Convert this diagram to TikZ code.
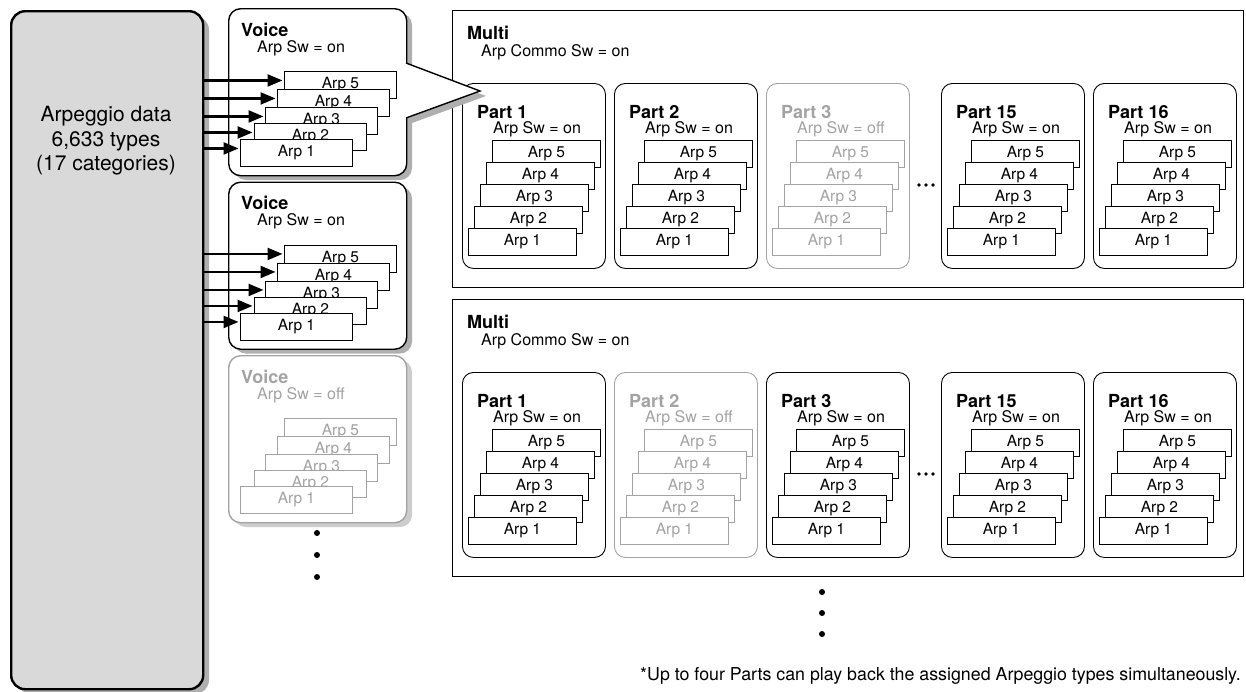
\documentclass[tikz,border=0pt]{standalone}
\usepackage{fontspec}
\setmainfont{TeX Gyre Heros}
\usetikzlibrary{arrows.meta,positioning}

\definecolor{datagray}{HTML}{D9D9D9}
\definecolor{shadowgray}{HTML}{AFAFAF}
\definecolor{offgray}{HTML}{A3A3A3}
\definecolor{offshadow}{HTML}{CDCDCD}

\begin{document}
\begin{tikzpicture}[x=1pt,y=-1pt,
    txt/.style={inner sep=0pt, font=\fontsize{16}{19}\selectfont},
    head/.style={inner sep=0pt, font=\fontsize{18}{20}\selectfont\bfseries},
    arpbox/.style={draw, fill=white, line width=0.9pt, inner sep=0pt, anchor=north west, font=\fontsize{15.5}{18}\selectfont},
    partbox/.style={draw, rounded corners=11pt, line width=0.9pt, minimum width=143pt, minimum height=185pt, anchor=north west},
    voicebox/.style={draw, fill=white, rounded corners=12pt, line width=1.4pt, minimum width=178pt, minimum height=167pt, anchor=north west},
    feed/.style={-{Triangle[length=15pt,width=12pt]}, line width=2.3pt, shorten >=1.5pt}]
  \useasboundingbox (0,0) rectangle (1246,691);

  % arpeggio data
  \fill[shadowgray, rounded corners=14pt] (17,16) rectangle (209,694);
  \node[draw, line width=2.4pt, fill=datagray, rounded corners=14pt, minimum width=192pt, minimum height=678pt, anchor=north west] (data) at (10,10) {};
  \node[txt, font=\fontsize{21}{24.5}\selectfont, align=center] (datatext) at (106,141) {Arpeggio data\\6,633 types\\(17 categories)};

  % multis with their parts
  \foreach \m/\my/\plist in {1/10/{462/1/on/black,614/2/on/black,766/3/off/offgray,941/15/on/black,1093/16/on/black},
                             2/299/{462/1/on/black,614/2/off/offgray,766/3/on/black,941/15/on/black,1093/16/on/black}} {
    \node[draw, line width=0.9pt, minimum width=791pt, minimum height=277pt, anchor=north west] (multi\m) at (452,\my) {};
    \node[head, anchor=base west] (multi\m-t) at (467,\my+29) {Multi};
    \node[txt, anchor=base west] (multi\m-s) at (481,\my+46) {Arp Commo Sw = on};
    \foreach \px/\pn/\sw/\col in \plist {
      \node[partbox, draw=\col] (m\m p\pn) at (\px,\my+73) {};
      \node[head, text=\col, anchor=base west] (m\m p\pn-t) at (\px+15,\my+108) {Part \pn};
      \node[txt, text=\col, anchor=base west] (m\m p\pn-s) at (\px+31,\my+123) {Arp Sw = \sw};
      \foreach \k in {5,4,3,2,1}
        \node[arpbox, draw=\col, text=\col, minimum width=108pt, minimum height=27pt] (m\m p\pn a\k) at (\px+6*\k,\my+240-22*\k) {Arp \k};
    }
    \foreach \dx in {919,926,933}
      \fill (\dx,\my+175) circle (1.8pt);
  }

  % voices
  \foreach \vi/\vy/\sh in {1/8/shadowgray,2/181.5/shadowgray,3/355/offshadow}
    \fill[\sh, rounded corners=12pt] (234,\vy+5) rectangle (412,\vy+172);
  \fill[shadowgray] (412,68) -- (486,96) -- (412,123) -- cycle;
  \foreach \vi/\vy/\col/\sw in {1/8/black/on,2/181.5/black/on,3/355/offgray/off} {
    \node[voicebox, draw=\col] (voice\vi) at (228,\vy) {};
    \node[head, text=\col, anchor=base west] (voice\vi-t) at (241,\vy+28) {Voice};
    \node[txt, text=\col, anchor=base west] (voice\vi-s) at (257,\vy+44) {Arp Sw = \sw};
    \foreach \k/\ax/\ay in {5/284/63,4/277/81,3/265/99,2/254/115,1/240/131}
      \node[arpbox, draw=\col, text=\col, minimum width=112pt, minimum height=27pt] (v\vi a\k) at (\ax,\vy+\ay) {Arp \k};
  }
  % pointer from the first voice to the multi
  \fill[white] (404.6,63) -- (480,91) -- (404.6,118) -- cycle;
  \draw[line width=1.4pt] (406,63) -- (480,91) -- (406,118);

  \foreach \vi in {1,2}
    \foreach \k in {1,...,5} {
      \coordinate (v\vi t\k) at ([yshift=4.5pt]v\vi a\k.west);
      \draw[feed] (data.east |- v\vi t\k) -- (v\vi t\k);
    }

  \foreach \dy in {533,555,577}
    \fill (317,\dy) circle (3pt);
  \foreach \dy in {592,613,634}
    \fill (822,\dy) circle (3pt);

  \node[txt, font=\fontsize{17.8}{20}\selectfont, anchor=base east] (note) at (1241,680) {*Up to four Parts can play back the assigned Arpeggio types simultaneously.};
\end{tikzpicture}
\end{document}
